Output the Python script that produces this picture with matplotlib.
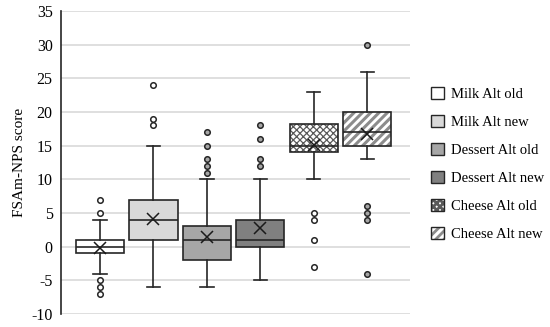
import matplotlib
matplotlib.use("Agg")
import matplotlib.pyplot as plt
from matplotlib.patches import Patch
import matplotlib as mpl

categories = ["Milk Alt old", "Milk Alt new", "Dessert Alt old", "Dessert Alt new",
              "Cheese Alt old", "Cheese Alt new"]
whislo = [-4, -6, -6, -5, 10, 13]
q1 = [-1, 1, -2, 0, 14, 15]
med = [0, 4, 1, 1, 15, 17]
q3 = [1, 7, 3, 4, 18.2, 20]
whishi = [4, 15, 10, 10, 23, 26]
means = [-0.2, 4.1, 1.5, 2.7, 15.1, 16.8]
outliers = [
    [5, 7, -5, -6, -7],
    [18, 19, 24],
    [11, 12, 13, 15, 17],
    [12, 13, 16, 18],
    [5, 4, 1, -3],
    [30, 6, 5, 4, -4],
]
yticks = list(range(-10, 36, 5))
ylabel = "FSAm-NPS score"

fills = ["white", "#d9d9d9", "#a6a6a6", "#808080", "white", "white"]
hatches = [None, None, None, None, "xxxxx", "////"]
hatch_colors = [None, None, None, None, "#5a5a5a", "#8c8c8c"]
hatch_lw = [None, None, None, None, 0.9, 2.2]
flier_fc = ["white", "white", "#a6a6a6", "#a6a6a6", "white", "#a6a6a6"]

plt.rcParams["font.family"] = ["Liberation Serif", "DejaVu Serif"]
plt.rcParams["hatch.linewidth"] = 2.0


def style_hatch(p, i):
    if not hatches[i]:
        return
    p.set_hatch(hatches[i])
    try:
        p._hatch_color = mpl.colors.to_rgba(hatch_colors[i])
    except Exception:
        pass
    try:
        p.set_hatch_linewidth(hatch_lw[i])
    except Exception:
        try:
            p._hatch_linewidth = hatch_lw[i]
        except Exception:
            pass


fig = plt.figure(figsize=(5.5, 3.27), dpi=100)
ax = fig.add_axes([61 / 550, 1 - 314 / 327, (410 - 61) / 550, (314 - 11) / 327])

stats = []
for i in range(6):
    stats.append(dict(whislo=whislo[i], q1=q1[i], med=med[i], q3=q3[i],
                      whishi=whishi[i], fliers=[], mean=means[i], label=categories[i]))

positions = list(range(1, 7))
bp = ax.bxp(stats, positions=positions, widths=0.9, patch_artist=True,
            showmeans=False, showfliers=False, capwidths=0.25,
            boxprops=dict(linewidth=1.2, edgecolor="#262626"),
            medianprops=dict(color="#262626", linewidth=1.2),
            whiskerprops=dict(color="#262626", linewidth=1.2),
            capprops=dict(color="#262626", linewidth=1.2))
for i, box in enumerate(bp["boxes"]):
    box.set_facecolor(fills[i])
    box.set_edgecolor("#262626")
    style_hatch(box, i)
    box.set_zorder(3)
for k in ("medians", "whiskers", "caps"):
    for ln in bp[k]:
        ln.set_zorder(4)

for i in range(6):
    ax.plot([positions[i]] * len(outliers[i]), outliers[i], linestyle="none",
            marker="o", markersize=4, markerfacecolor=flier_fc[i],
            markeredgecolor="#262626", markeredgewidth=1.1, zorder=5)
    ax.plot([positions[i]], [means[i]], linestyle="none", marker="x",
            markersize=9, markeredgewidth=1.1, color="#1a1a1a", zorder=6)

ax.set_xlim(0.27, 6.8)
ax.set_ylim(-10, 35)
ax.set_yticks(yticks)
ax.set_yticklabels([str(t) for t in yticks], fontsize=11.5)
ax.set_xticks([])
ax.grid(axis="y", color="#d9d9d9", linewidth=1.2, zorder=0)
ax.set_axisbelow(True)
for s in ("top", "right", "bottom"):
    ax.spines[s].set_visible(False)
ax.spines["left"].set_color("#262626")
ax.spines["left"].set_linewidth(1.2)
ax.tick_params(axis="y", length=0, pad=6)
ax.set_ylabel(ylabel, fontsize=11)

handles = []
for i in range(6):
    p = Patch(facecolor=fills[i], edgecolor="#262626", linewidth=1.0)
    style_hatch(p, i)
    handles.append(p)
leg = fig.legend(handles, categories, loc="upper left",
                 bbox_to_anchor=(425 / 550, 1 - 81 / 327), frameon=False,
                 fontsize=10.5, handlelength=0.9, handleheight=0.9,
                 labelspacing=0.95, handletextpad=0.45, borderaxespad=0.0)

fig.savefig("out.png", dpi=100)
